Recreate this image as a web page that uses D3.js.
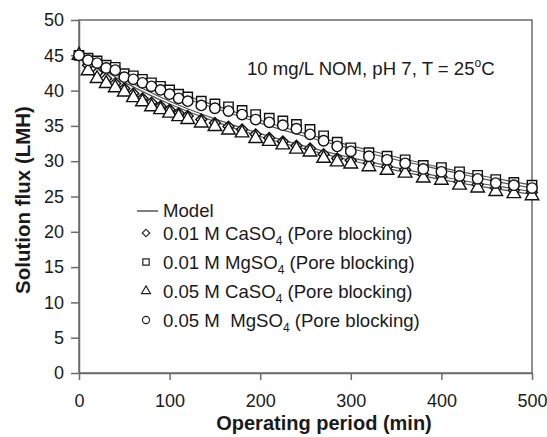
<!doctype html>
<html>
<head>
<meta charset="utf-8">
<script src="https://d3js.org/d3.v7.min.js"></script>
<style>
  body { margin: 0; background: #fff; }
  text { font-family: "Liberation Sans", Arial, sans-serif; fill: #1a1a1a; }
</style>
</head>
<body>
<script>
// sampling times (min), shared by all measured series
var times = [0, 10, 20, 30, 40, 50, 60, 70, 80, 90, 100, 110, 120, 135, 150, 165, 180, 195,
             210, 225, 240, 255, 270, 285, 300, 320, 340, 360, 380, 400, 420, 440, 460, 480, 500];

var caso4_001 = [45.0, 43.6, 42.5, 41.7, 41.0, 40.3, 39.6, 38.9, 38.3, 37.8, 37.3, 36.8, 36.4, 35.9,
                 35.4, 34.9, 34.5, 33.8, 33.3, 32.8, 32.2, 31.8, 31.0, 30.4, 30.1, 29.7, 29.2, 28.8,
                 28.1, 27.8, 27.1, 26.7, 26.2, 25.9, 25.6];
var mgso4_001 = [45.0, 44.6, 44.2, 43.6, 43.3, 42.4, 42.1, 41.6, 41.1, 40.6, 40.1, 39.5, 39.1, 38.5,
                 38.1, 37.7, 37.2, 36.6, 36.1, 35.7, 35.2, 34.5, 33.6, 32.7, 31.9, 31.2, 30.7, 30.2,
                 29.4, 29.1, 28.5, 28.0, 27.4, 27.0, 26.6];
var caso4_005 = [45.0, 42.8, 41.7, 41.0, 40.4, 39.8, 39.0, 38.4, 37.7, 37.3, 36.8, 36.3, 35.9, 35.4,
                 34.9, 34.4, 34.0, 33.2, 32.8, 32.3, 31.7, 31.3, 30.4, 29.9, 29.6, 29.2, 28.7, 28.3,
                 27.6, 27.3, 26.6, 26.2, 25.7, 25.4, 25.1];
var mgso4_005 = [45.0, 44.3, 43.9, 43.2, 42.9, 41.9, 41.6, 41.1, 40.6, 40.1, 39.5, 38.9, 38.5, 37.9,
                 37.5, 37.1, 36.6, 35.9, 35.5, 35.1, 34.6, 33.8, 32.9, 32.1, 31.4, 30.7, 30.2, 29.7,
                 28.9, 28.5, 27.9, 27.5, 26.9, 26.6, 26.2];

// pore blocking model curves
var modelTimes = [0, 50, 100, 150, 200, 250, 300, 350, 400, 450, 500];
var modelCa001 = [45, 41.6, 38.5, 36.0, 33.9, 32.1, 30.5, 29.1, 27.8, 26.7, 25.7];
var modelMg001 = [45, 42.5, 40.1, 37.9, 35.8, 33.9, 32.2, 30.6, 29.1, 27.8, 26.6];
var modelCa005 = [45, 41.2, 38.1, 35.6, 33.5, 31.7, 30.1, 28.7, 27.4, 26.3, 25.3];
var modelMg005 = [45, 42.2, 39.7, 37.5, 35.4, 33.5, 31.8, 30.2, 28.8, 27.4, 26.2];

var xTicks = [0, 100, 200, 300, 400, 500];
var yTicks = [0, 5, 10, 15, 20, 25, 30, 35, 40, 45, 50];

var width = 547, height = 437;
var margin = {top: 20, right: 15, bottom: 64, left: 79};

var svg = d3.select("body").append("svg")
    .attr("width", width).attr("height", height);

var x = d3.scaleLinear().domain([0, 500]).range([margin.left, width - margin.right]);
var y = d3.scaleLinear().domain([0, 50]).range([height - margin.bottom, margin.top]);

var axisColor = "#6b6b6b";

// frame
svg.append("rect")
    .attr("x", x(0)).attr("y", y(50))
    .attr("width", x(500) - x(0)).attr("height", y(0) - y(50))
    .attr("fill", "none").attr("stroke", axisColor).attr("stroke-width", 1.5);

var xAxis = svg.append("g")
    .attr("transform", "translate(0," + y(0) + ")")
    .call(d3.axisBottom(x).tickValues(xTicks).tickSize(7).tickPadding(14).tickSizeOuter(0));
var yAxis = svg.append("g")
    .attr("transform", "translate(" + x(0) + ",0)")
    .call(d3.axisLeft(y).tickValues(yTicks).tickSize(8).tickPadding(7).tickSizeOuter(0));

[xAxis, yAxis].forEach(function(a) {
    a.select(".domain").attr("stroke", axisColor).attr("stroke-width", 1.5);
    a.selectAll(".tick line").attr("stroke", axisColor).attr("stroke-width", 1.5);
    a.selectAll(".tick text").attr("font-size", "18px").attr("fill", "#1a1a1a")
        .attr("font-family", "Liberation Sans, Arial, sans-serif");
});

// model lines
var line = d3.line()
    .x(function(d) { return x(d[0]); })
    .y(function(d) { return y(d[1]); })
    .curve(d3.curveNatural);

[modelCa001, modelMg001, modelCa005, modelMg005].forEach(function(m) {
    svg.append("path")
        .attr("d", line(modelTimes.map(function(t, i) { return [t, m[i]]; })))
        .attr("fill", "none").attr("stroke", "#555").attr("stroke-width", 1.2);
});

// marker shapes
var diamond = d3.symbol().type(d3.symbolSquare).size(60);
var square = d3.symbol().type(d3.symbolSquare).size(88);
var triangle = d3.symbol().type(d3.symbolTriangle).size(80);
var circle = d3.symbol().type(d3.symbolCircle).size(85);

var series = [
    {vals: caso4_001, sym: diamond, rot: 45},
    {vals: mgso4_001, sym: square, rot: 0},
    {vals: caso4_005, sym: triangle, rot: 0},
    {vals: mgso4_005, sym: circle, rot: 0}
];

series.forEach(function(s, k) {
    svg.append("g").selectAll("path")
        .data(times.map(function(t, i) { return [t, s.vals[i]]; }))
        .enter().append("path")
        .attr("d", s.sym())
        .attr("transform", function(d) {
            return "translate(" + x(d[0]) + "," + y(d[1]) + ") rotate(" + s.rot + ")";
        })
        .attr("fill", "#fff").attr("stroke", "#111").attr("stroke-width", 1.4);
});

// legend
var legendItems = [
    {sym: d3.symbol().type(d3.symbolSquare).size(28), rot: 45, conc: "0.01 M ", salt: "CaSO", tail: " (Pore blocking)"},
    {sym: d3.symbol().type(d3.symbolSquare).size(40), rot: 0, conc: "0.01 M ", salt: "MgSO", tail: " (Pore blocking)"},
    {sym: d3.symbol().type(d3.symbolTriangle).size(34), rot: 0, conc: "0.05 M ", salt: "CaSO", tail: " (Pore blocking)"},
    {sym: d3.symbol().type(d3.symbolCircle).size(40), rot: 0, conc: "0.05 M  ", salt: "MgSO", tail: " (Pore blocking)"}
];

var legend = svg.append("g");
legend.append("line")
    .attr("x1", 137).attr("x2", 158).attr("y1", 211).attr("y2", 211)
    .attr("stroke", "#555").attr("stroke-width", 1.5);
legend.append("text").attr("x", 163).attr("y", 217).attr("font-size", "18.6px").text("Model");

legendItems.forEach(function(d, i) {
    var yy = 233 + i * 29;
    legend.append("path")
        .attr("d", d.sym())
        .attr("transform", "translate(146," + yy + ") rotate(" + d.rot + ")")
        .attr("fill", "#fff").attr("stroke", "#222").attr("stroke-width", 1.2);
    var t = legend.append("text").attr("x", 163).attr("y", yy + 6.5)
        .attr("font-size", "18.6px").attr("xml:space", "preserve");
    t.append("tspan").text(d.conc + d.salt);
    t.append("tspan").attr("font-size", "12px").attr("dy", 5).text("4");
    t.append("tspan").attr("dy", -5).text(d.tail);
});

// condition note
var note = svg.append("text").attr("x", 247).attr("y", 75).attr("font-size", "18.6px");
note.append("tspan").text("10 mg/L NOM, pH 7, T = 25");
note.append("tspan").attr("font-size", "12px").attr("dy", -8).text("o");
note.append("tspan").attr("dy", 8).text("C");

// axis titles
svg.append("text")
    .attr("x", 324).attr("y", 430)
    .attr("text-anchor", "middle").attr("font-size", "20px").attr("font-weight", "bold")
    .text("Operating period (min)");
svg.append("text")
    .attr("transform", "translate(30,200) rotate(-90)")
    .attr("text-anchor", "middle").attr("font-size", "20.5px").attr("font-weight", "bold")
    .text("Solution flux (LMH)");
</script>
</body>
</html>
